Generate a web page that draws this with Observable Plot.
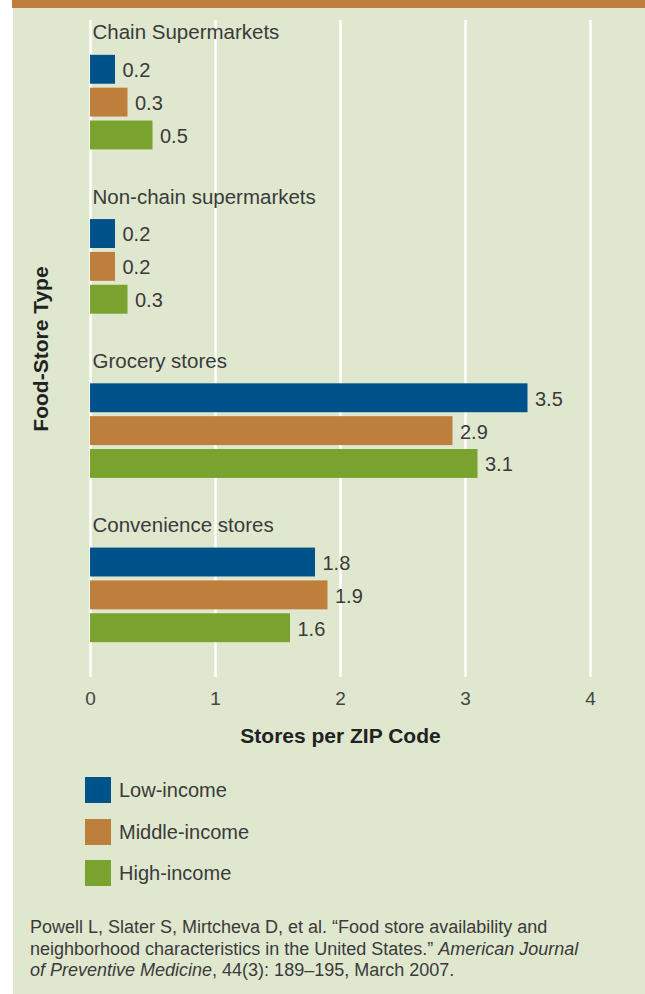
<!DOCTYPE html>
<html>
<head>
<meta charset="utf-8">
<script src="https://cdn.jsdelivr.net/npm/d3@7"></script>
<script src="https://cdn.jsdelivr.net/npm/@observablehq/plot@0.6"></script>
<style>
  html, body { margin: 0; padding: 0; background: #ffffff; overflow: hidden; }
  body { width: 645px; height: 994px; position: relative; font-family: "Liberation Sans", Arial, sans-serif; }
  #panel { position: absolute; left: 13px; top: 0; width: 632px; height: 994px; background: #dfe8ce; }
  #band { position: absolute; left: 12px; top: 0; width: 633px; height: 8px; background: #bc7e3a; }
  #chart { position: absolute; left: 0; top: 0; }
  #legend { position: absolute; left: 85px; top: 777px; }
  .item { position: absolute; left: 0; width: 300px; height: 26px; }
  .sw { position: absolute; left: 0; top: 0; width: 26px; height: 26px; }
  .lab { position: absolute; left: 34px; top: 0; line-height: 26px; font-size: 20px; color: #3a3a3a; white-space: nowrap; }
  #caption { position: absolute; left: 30px; top: 917px; font-size: 18px; line-height: 21.5px; color: #3a3a3a; white-space: nowrap; }
</style>
</head>
<body>
<div id="panel"></div>
<div id="band"></div>
<div id="chart"></div>
<div id="legend"></div>
<div id="caption">Powell L, Slater S, Mirtcheva D, et al. “Food store availability and<br>neighborhood characteristics in the United States.” <i>American Journal<br>of Preventive Medicine</i>, 44(3): 189–195, March 2007.</div>
<script>
// ---- data ----
const categories = ["Chain Supermarkets", "Non-chain supermarkets", "Grocery stores", "Convenience stores"];
const incomes = ["Low-income", "Middle-income", "High-income"];
const lowIncome = [0.2, 0.2, 3.5, 1.8];
const middleIncome = [0.3, 0.2, 2.9, 1.9];
const highIncome = [0.5, 0.3, 3.1, 1.6];
const xTicks = [0, 1, 2, 3, 4];
const colors = ["#00528a", "#bd7f3b", "#79a22f"];
const xLabel = "Stores per ZIP Code";
const yLabel = "Food-Store Type";

const series = [lowIncome, middleIncome, highIncome];
const rows = categories.flatMap((c, i) => incomes.map((inc, j) => ({category: c, income: inc, value: series[j][i]})));
const slots = categories.flatMap(c => [c + "|label", ...incomes.map(inc => c + "|" + inc), c + "|gap"]);
const key = d => d.category + "|" + d.income;

const chart = Plot.plot({
  width: 645,
  height: 753,
  marginTop: 20,
  marginBottom: 76,
  marginLeft: 90,
  marginRight: 55,
  style: {background: "transparent", fontFamily: "'Liberation Sans', Arial, sans-serif", fontSize: "19px", color: "#444"},
  x: {domain: [0, 4], ticks: xTicks, tickSize: 0, tickPadding: 14, label: null, tickFormat: d => String(d)},
  y: {type: "band", domain: slots, paddingInner: 0.12, paddingOuter: 0.06, align: 0.5, round: false, axis: null},
  color: {domain: incomes, range: colors},
  marks: [
    Plot.ruleX(xTicks, {stroke: "#ffffff", strokeWidth: 2.5}),
    Plot.barX(rows, {x1: 0, x2: "value", y: key, fill: "income"}),
    Plot.text(rows, {x: "value", y: key, text: d => d.value.toFixed(1), textAnchor: "start", dx: 7, dy: 1, fontSize: 20, fill: "#3a3a3a"}),
    Plot.text(categories, {y: d => d + "|label", frameAnchor: "left", textAnchor: "start", dx: 2, dy: -4, fontSize: 20.5, fill: "#3a3a3a"}),
    Plot.text([xLabel], {frameAnchor: "bottom", textAnchor: "middle", dy: 65, fontSize: 21, fontWeight: "bold", fill: "#222"}),
    Plot.text([yLabel], {frameAnchor: "left", textAnchor: "middle", rotate: -90, lineAnchor: "bottom", dx: -43, fontSize: 21, fontWeight: "bold", fill: "#222"})
  ]
});
document.getElementById("chart").appendChild(chart);

const legend = document.getElementById("legend");
const tops = [0, 42, 83];
incomes.forEach((inc, i) => {
  const it = document.createElement("div");
  it.className = "item";
  it.style.top = tops[i] + "px";
  it.innerHTML = `<div class="sw" style="background:${colors[i]}"></div><div class="lab">${inc}</div>`;
  legend.appendChild(it);
});
</script>
</body>
</html>
